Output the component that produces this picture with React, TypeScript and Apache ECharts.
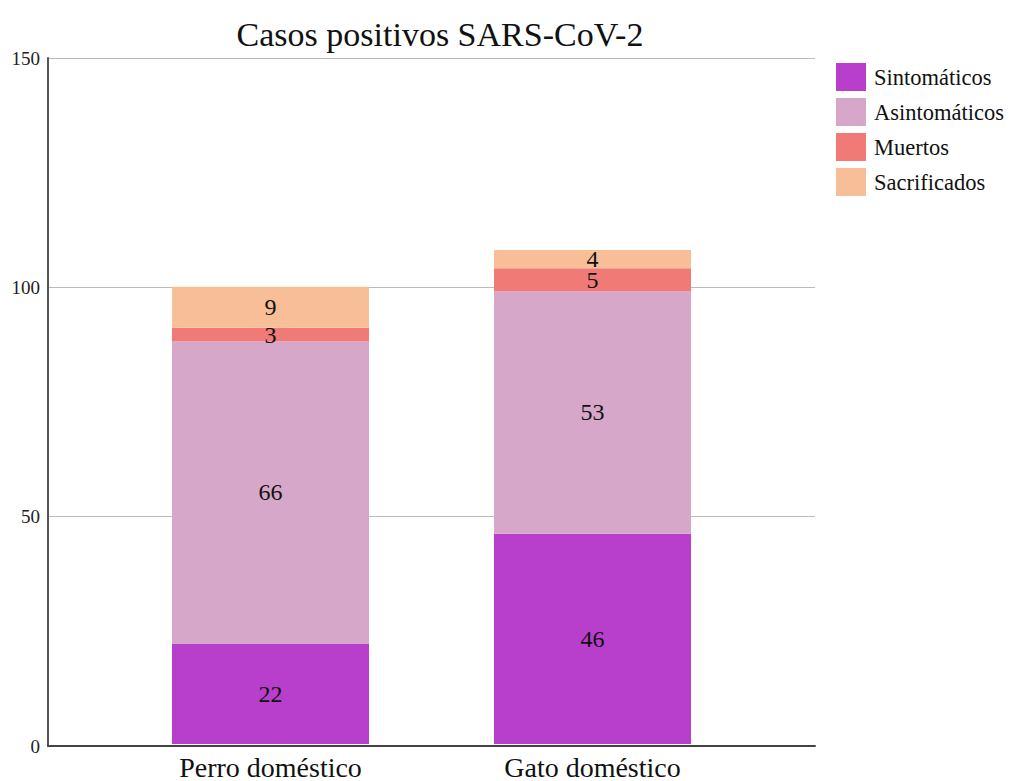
import React, { useEffect, useRef } from "react";
import * as echarts from "echarts";

const categories = ["Perro doméstico", "Gato doméstico"];
const sintomaticos = [22, 46];
const asintomaticos = [66, 53];
const muertos = [3, 5];
const sacrificados = [9, 4];
const yTicks = { min: 0, max: 150, interval: 50 };

const FONT = "Liberation Serif";

export default function App() {
  const ref = useRef<HTMLDivElement>(null);
  useEffect(() => {
    document.body.style.margin = "0";
    if (!ref.current) return;
    const chart = echarts.init(ref.current, undefined, { renderer: "svg" });
    const mk = (name: string, data: number[], color: string) => ({
      name,
      type: "bar",
      stack: "total",
      xAxisIndex: 1,
      yAxisIndex: 1,
      data,
      barWidth: 197,
      itemStyle: { color },
      label: {
        show: true,
        position: "inside",
        color: "#111",
        fontFamily: FONT,
        fontSize: 24,
      },
    });
    chart.setOption({
      animation: false,
      backgroundColor: "#fff",
      textStyle: { fontFamily: FONT },
      title: {
        text: "Casos positivos SARS-CoV-2",
        left: 435,
        textAlign: "center",
        top: 12,
        textStyle: { fontFamily: FONT, fontSize: 34, fontWeight: "normal", color: "#111" },
      },
      legend: {
        orient: "vertical",
        left: 831,
        top: 58,
        itemWidth: 30,
        itemHeight: 28,
        itemGap: 7,
        icon: "rect",
        textStyle: { fontFamily: FONT, fontSize: 22.5, color: "#111", padding: [0, 0, 0, 3] },
        data: ["Sintomáticos", "Asintomáticos", "Muertos", "Sacrificados"],
      },
      grid: [
        { left: 48, right: 201, top: 58, bottom: 35 },
        { left: 109.5, right: 262.5, top: 58, bottom: 35 },
      ],
      xAxis: [
        {
          gridIndex: 0,
          type: "value",
          min: 0,
          max: 1,
          axisLine: { show: true, onZero: false, lineStyle: { color: "#444", width: 2 } },
          axisTick: { show: false },
          axisLabel: { show: false },
          splitLine: { show: false },
        },
        {
          gridIndex: 1,
          type: "category",
          data: categories,
          axisLine: { show: false },
          axisTick: { show: false },
          axisLabel: { fontFamily: FONT, fontSize: 28, color: "#111", margin: 9 },
        },
      ],
      yAxis: [
        {
          gridIndex: 0,
          type: "value",
          ...yTicks,
          axisLine: { show: true, lineStyle: { color: "#555", width: 2 } },
          axisTick: { show: false },
          axisLabel: { fontFamily: FONT, fontSize: 19, color: "#222", margin: 8 },
          splitLine: { show: true, lineStyle: { color: "#bbb", width: 1 } },
        },
        {
          gridIndex: 1,
          type: "value",
          ...yTicks,
          show: false,
        },
      ],
      series: [
        mk("Sintomáticos", sintomaticos, "#B83FCB"),
        mk("Asintomáticos", asintomaticos, "#D6A7C9"),
        mk("Muertos", muertos, "#EF7A76"),
        mk("Sacrificados", sacrificados, "#F7BE97"),
      ],
    });
    return () => chart.dispose();
  }, []);
  return <div ref={ref} style={{ width: 1016, height: 781 }} />;
}
